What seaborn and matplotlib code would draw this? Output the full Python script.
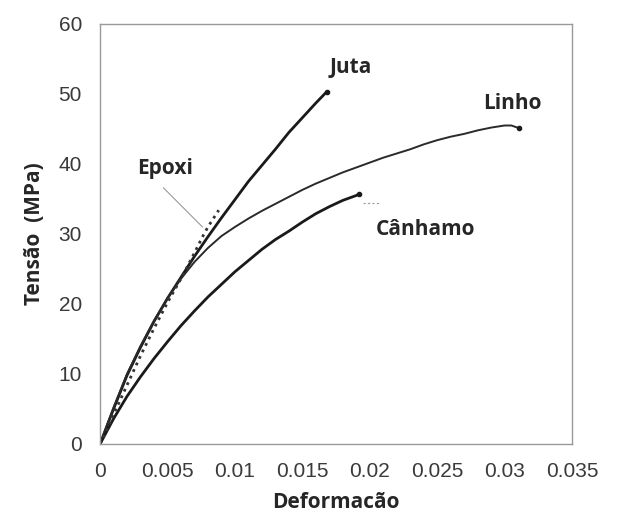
import numpy as np
import pandas as pd
import matplotlib
matplotlib.use("Agg")
import matplotlib.pyplot as plt
import seaborn as sns

# stress-strain curves (strain, MPa)
juta_eps = [0, 0.001, 0.002, 0.003, 0.004, 0.005, 0.006, 0.007, 0.008, 0.009,
            0.010, 0.011, 0.012, 0.013, 0.014, 0.015, 0.016, 0.0168]
juta_sig = [0, 5.0, 9.8, 13.8, 17.5, 20.8, 23.8, 26.8, 29.6, 32.3,
            34.9, 37.5, 39.8, 42.1, 44.5, 46.6, 48.7, 50.3]

linho_eps = [0, 0.001, 0.002, 0.003, 0.004, 0.005, 0.006, 0.007, 0.008, 0.009,
             0.010, 0.011, 0.012, 0.013, 0.014, 0.015, 0.016, 0.017, 0.018, 0.019,
             0.020, 0.021, 0.022, 0.023, 0.024, 0.025, 0.026, 0.027, 0.028, 0.029,
             0.030, 0.0305, 0.0311]
linho_sig = [0, 5.2, 10.0, 14.0, 17.6, 20.8, 23.6, 26.0, 28.0, 29.7,
             31.0, 32.2, 33.3, 34.3, 35.3, 36.3, 37.2, 38.0, 38.8, 39.5,
             40.2, 40.9, 41.5, 42.1, 42.8, 43.4, 43.9, 44.3, 44.8, 45.2,
             45.5, 45.5, 45.1]

canhamo_eps = [0, 0.001, 0.002, 0.003, 0.004, 0.005, 0.006, 0.007, 0.008, 0.009,
               0.010, 0.011, 0.012, 0.013, 0.014, 0.015, 0.016, 0.017, 0.018, 0.019, 0.0192]
canhamo_sig = [0, 3.6, 6.8, 9.6, 12.2, 14.6, 16.9, 19.0, 21.0, 22.8,
               24.6, 26.2, 27.8, 29.2, 30.4, 31.7, 32.9, 33.9, 34.8, 35.5, 35.7]

epoxi_eps = [0, 0.001, 0.002, 0.003, 0.004, 0.005, 0.006, 0.007, 0.0076, 0.008, 0.0088]
epoxi_sig = [0, 4.2, 8.4, 12.6, 16.5, 20.2, 23.6, 27.3, 29.6, 31.0, 33.4]

x_ticks = [0, 0.005, 0.01, 0.015, 0.02, 0.025, 0.03, 0.035]
x_labels = ["0", "0.005", "0.01", "0.015", "0.02", "0.025", "0.03", "0.035"]
y_ticks = [0, 10, 20, 30, 40, 50, 60]

sns.set_style("white")
plt.rcParams["font.family"] = ["Liberation Sans", "DejaVu Sans"]

fig = plt.figure(figsize=(6.19, 5.17), dpi=100)
ax = fig.add_axes([0.1616, 0.1412, 0.7625, 0.8124])

ink = "#1a1a1a"
sns.lineplot(x=juta_eps, y=juta_sig, ax=ax, color=ink, linewidth=2.0, sort=False, estimator=None)
sns.lineplot(x=linho_eps, y=linho_sig, ax=ax, color="#2a2a2a", linewidth=1.4, sort=False, estimator=None)
sns.lineplot(x=canhamo_eps, y=canhamo_sig, ax=ax, color=ink, linewidth=2.0, sort=False, estimator=None)
sns.lineplot(x=epoxi_eps, y=epoxi_sig, ax=ax, color="#333333", linewidth=2.0,
             linestyle=(0, (1, 1.6)), sort=False, estimator=None)

# end dots
for e, s in [(juta_eps, juta_sig), (linho_eps, linho_sig), (canhamo_eps, canhamo_sig)]:
    ax.plot(e[-1], s[-1], "o", color=ink, markersize=3)

# leader lines
ax.plot([0.0047, 0.0076], [36.6, 31.0], color="#999999", linewidth=0.8)
ax.plot([0.0195, 0.0207], [34.4, 34.4], color="#999999", linewidth=0.8, linestyle=(0, (2, 2)))

lab = dict(fontfamily="Open Sans", fontweight="bold", fontsize=15, color="#262626",
           ha="center", va="center")
ax.text(0.0186, 53.8, "Juta", **lab)
ax.text(0.0306, 48.7, "Linho", **lab)
ax.text(0.0048, 39.4, "Epoxi", **lab)
ax.text(0.0241, 30.7, "Cânhamo", **lab)

ax.set_xlim(0, 0.035)
ax.set_ylim(0, 60)
ax.set_xticks(x_ticks)
ax.set_xticklabels(x_labels)
ax.set_yticks(y_ticks)
ax.tick_params(direction="in", length=5, width=0.8, color="#999999",
               labelsize=15, labelcolor="#3a3a3a", pad=13)
for sp in ax.spines.values():
    sp.set_color("#999999")
    sp.set_linewidth(1.0)

ax.set_xlabel("Deformacão", fontfamily="Open Sans", fontweight="bold", fontsize=15,
              color="#262626", labelpad=8)
ax.set_ylabel("Tensão  (MPa)", fontfamily="Open Sans", fontweight="bold", fontsize=15,
              color="#262626", labelpad=10)

fig.savefig("out.png", dpi=100, facecolor="white")
